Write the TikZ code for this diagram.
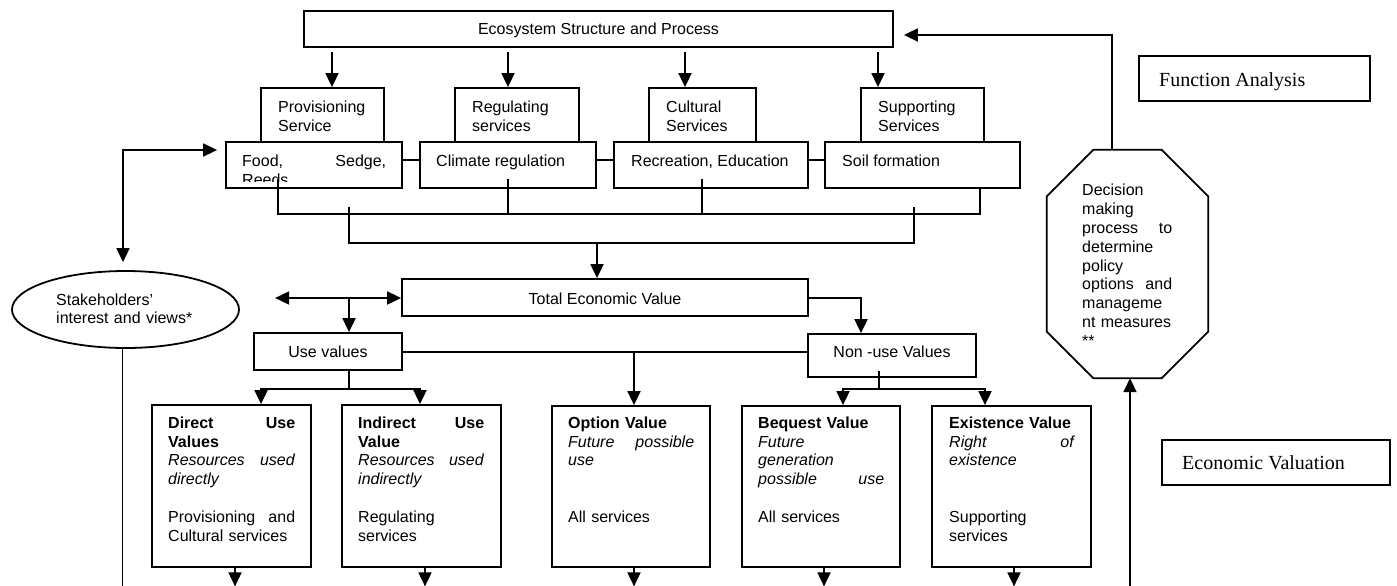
\documentclass[tikz,border=0pt]{standalone}
\usepackage{fontspec}
\setmainfont{Liberation Sans}
\newfontfamily\tnr{Liberation Serif}
\usetikzlibrary{arrows.meta,calc,shapes.geometric}
\begin{document}
\begin{tikzpicture}[x=1pt,y=-1pt,
  box/.style={draw, line width=1.8pt, inner sep=0pt},
  ln/.style={line width=1.8pt},
  arr/.style={line width=1.8pt,-{Triangle[length=14pt,width=13pt]}},
  darr/.style={line width=1.8pt,{Triangle[length=14pt,width=13pt]}-{Triangle[length=14pt,width=13pt]}},
  txt/.style={inner sep=0pt, font=\fontsize{16pt}{18.8pt}\selectfont},
  blk/.style={txt, anchor=north west, align=left, text width=#1},
  ttl/.style={inner sep=0pt, font=\tnr\fontsize{20pt}{24pt}\selectfont, anchor=base west},
]
\useasboundingbox (0,0) rectangle (1397,586);

% ---------- top ----------
\node[box, minimum width=589pt, minimum height=36pt] (eco) at (598.5,29) {};
\node[txt, anchor=base] (teco) at (598.5,35) {Ecosystem Structure and Process};

\node[box, minimum width=123pt, minimum height=54pt] (provh) at (322.5,115) {};
\node[box, minimum width=124pt, minimum height=54pt] (regh) at (517,115) {};
\node[box, minimum width=107pt, minimum height=54pt] (culh) at (702.5,115) {};
\node[box, minimum width=123pt, minimum height=54pt] (suph) at (922.5,115) {};
\node[blk=100pt] (tprovh) at (278,99.1) {\strut Provisioning\\Service};
\node[blk=100pt] (tregh) at (472,99.1) {\strut Regulating\\services};
\node[blk=85pt] (tculh) at (666,99.1) {\strut Cultural\\Services};
\node[blk=100pt] (tsuph) at (878,99.1) {\strut Supporting\\Services};

\node[box, minimum width=176pt, minimum height=46pt] (food) at (314,165) {};
\node[box, minimum width=176pt, minimum height=46pt] (clim) at (508,165) {};
\node[box, minimum width=194pt, minimum height=46pt] (rec) at (711,165) {};
\node[box, minimum width=195pt, minimum height=46pt] (soil) at (922.5,165) {};
\begin{scope}
  \clip (food.north west) rectangle ($(food.south east)+(0,-7)$);
  \node[blk=144pt] (tfood) at (242,153.3) {\strut Food,\hfill Sedge,\\Reeds};
\end{scope}
\node[txt, anchor=base west] (tclim) at (436,166.5) {Climate regulation};
\node[txt, anchor=base west] (trec) at (631,166.5) {Recreation, Education};
\node[txt, anchor=base west] (tsoil) at (842,166.3) {Soil formation};

\node[box, minimum width=231pt, minimum height=45pt] (funca) at (1254.5,78.5) {};
\node[ttl] (tfunca) at (1159,86) {Function Analysis};

% arrows from ecosystem box
\draw[arr] ($(provh.north |- eco.south)+(9.5,4)$) -- ($(provh.north)+(9.5,0)$);
\draw[arr] ($(regh.north |- eco.south)+(-9,4)$) -- ($(regh.north)+(-9,0)$);
\draw[arr] ($(culh.north |- eco.south)+(-17.5,4)$) -- ($(culh.north)+(-17.5,0)$);
\draw[arr] ($(suph.north |- eco.south)+(-44.5,4)$) -- ($(suph.north)+(-44.5,0)$);

% links between service boxes
\draw[ln] ($(food.east)+(0,-5)$) -- ($(clim.west)+(0,-5)$);
\draw[ln] ($(clim.east)+(0,-5)$) -- ($(rec.west)+(0,-5)$);
\draw[ln] ($(rec.east)+(0,-5)$) -- ($(soil.west)+(0,-5)$);

% bracket 1
\draw[ln] ($(food.south)+(-36,-10)$) -- ++(0,35) -| ($(soil.south)+(57.5,0)$);
\draw[ln] ($(clim.south)+(0,-10)$) -- ++(0,35);
\draw[ln] ($(rec.south)+(-9,-10)$) -- ++(0,35);

% ---------- middle ----------
\node[box, minimum width=406pt, minimum height=37pt] (tev) at (605,297.5) {};
\node[txt, anchor=base] (ttev) at (605,304) {Total Economic Value};
\node[box, minimum width=148pt, minimum height=37pt] (use) at (328,351.5) {};
\node[txt, anchor=base] (tuse) at (328,357.5) {Use values};
\node[box, minimum width=168pt, minimum height=43pt] (nonuse) at (892,355.5) {};
\node[txt, anchor=base] (tnonuse) at (892,357.5) {Non -use Values};

% bracket 2
\coordinate (br2l) at (349,207);
\coordinate (br2r) at (914,207);
\draw[ln] (br2l) -- ++(0,36) -| (br2r);
\draw[arr] ($(tev.north)+(-8,-36)$) -- ($(tev.north)+(-8,0)$);

% stakeholders
\node[ellipse, draw, line width=1.8pt, inner sep=0pt, minimum width=227pt, minimum height=77pt] (stake) at (125.5,309.5) {};
\node[blk=170pt] (tstake) at (56,291.8) {\strut Stakeholders’\\interest and views*};
\draw[darr] ($(stake.north)+(-2.5,-8)$) |- ($(food.west)+(-8,-15)$);
\draw[ln] ($(stake.south)+(-3,0)$) -- ++(0,238);

\draw[darr] ($(tev.west)+(-126,0.5)$) -- ($(tev.west)+(0,0.5)$);
\draw[arr] ($(use.north)+(21,-35)$) -- ($(use.north)+(21,0)$);
\draw[arr] ($(tev.east)+(0,0.5)$) -| ($(nonuse.north)+(-31,0)$);
\draw[ln] ($(use.east)+(0,0.5)$) -- ($(use.east -| nonuse.west)+(0,0.5)$);

% ---------- bottom boxes ----------
\node[box, minimum width=159pt, minimum height=162pt] (direct) at (231.5,486) {};
\node[box, minimum width=159pt, minimum height=162pt] (indirect) at (421.5,486) {};
\node[box, minimum width=158pt, minimum height=161pt] (option) at (631,486.5) {};
\node[box, minimum width=158pt, minimum height=161pt] (bequest) at (821,486.5) {};
\node[box, minimum width=159pt, minimum height=161pt] (exist) at (1011.5,486.5) {};

\node[blk=127pt] (tdirect) at (168,414.84) {\strut\textbf{Direct\hfill Use}\\\textbf{Values}\\\textit{Resources\hfill used}\\\textit{directly}\\\strut\\Provisioning\hfill and\\Cultural services};
\node[blk=126pt] (tindirect) at (358,414.84) {\strut\textbf{Indirect\hfill Use}\\\textbf{Value}\\\textit{Resources\hfill used}\\\textit{indirectly}\\\strut\\Regulating\\services};
\node[blk=126pt] (toption) at (568,414.84) {\strut\textbf{Option Value}\\\textit{Future\hfill possible}\\\textit{use}\\\strut\\\strut\\All services};
\node[blk=126pt] (tbequest) at (758,414.84) {\strut\textbf{Bequest Value}\\\textit{Future}\\\textit{generation}\\\textit{possible\hfill use}\\\strut\\All services};
\node[blk=126pt] (texist) at (949,414.84) {\strut\textbf{Existence Value}\\\textit{Right\hfill of}\\\textit{existence}\\\strut\\\strut\\Supporting\\services};

\draw[arr] ($(option.north |- use.east)+(3,0.5)$) -- ($(option.north)+(3,0)$);
\draw[ln] ($(use.south)+(21,0)$) -- ++(0,18);
\draw[arr] ($(use.south)+(21,18)$) -| ($(direct.north)+(29.5,0)$);
\draw[arr] ($(use.south)+(21,18)$) -| ($(indirect.north)+(-1.5,0)$);
\draw[ln] ($(nonuse.south)+(-13,-7)$) -- ++(0,18);
\draw[arr] ($(nonuse.south)+(-13,11)$) -| ($(bequest.north)+(22,0)$);
\draw[arr] ($(nonuse.south)+(-13,11)$) -| ($(exist.north)+(-26.5,0)$);

\draw[arr] ($(direct.south)+(3.5,0)$) -- ++(0,18.5);
\draw[arr] ($(indirect.south)+(3.5,0)$) -- ++(0,18.5);
\draw[arr] ($(option.south)+(3,0)$) -- ++(0,18.5);
\draw[arr] ($(bequest.south)+(3,0)$) -- ++(0,18.5);
\draw[arr] ($(exist.south)+(2.5,0)$) -- ++(0,18.5);

% ---------- decision octagon ----------
\node[minimum width=161pt, minimum height=228pt, inner sep=0pt] (dec) at (1127.5,264) {};
\draw[ln] ($(dec.north west)+(46.5,0)$) -- ($(dec.north east)+(-46.5,0)$)
  -- ($(dec.north east)+(0,46.5)$) -- ($(dec.south east)+(0,-46.5)$)
  -- ($(dec.south east)+(-46.5,0)$) -- ($(dec.south west)+(46.5,0)$)
  -- ($(dec.south west)+(0,-46.5)$) -- ($(dec.north west)+(0,46.5)$) -- cycle;
\node[blk=90pt] (tdec) at (1082,182.5) {\strut Decision\\making\\process\hfill to\\determine\\policy\\options\hfill and\\manageme\\nt measures\\\relax **};
\draw[arr] ($(dec.north)+(-15.5,0)$) |- ($(eco.east)+(10,6)$);
\draw[arr] ($(dec.south)+(2.5,208)$) -- ($(dec.south)+(2.5,0)$);

\node[box, minimum width=228pt, minimum height=45pt] (econv) at (1276,462.5) {};
\node[ttl] (tecon) at (1182,469.3) {Economic Valuation};
\end{tikzpicture}
\end{document}
